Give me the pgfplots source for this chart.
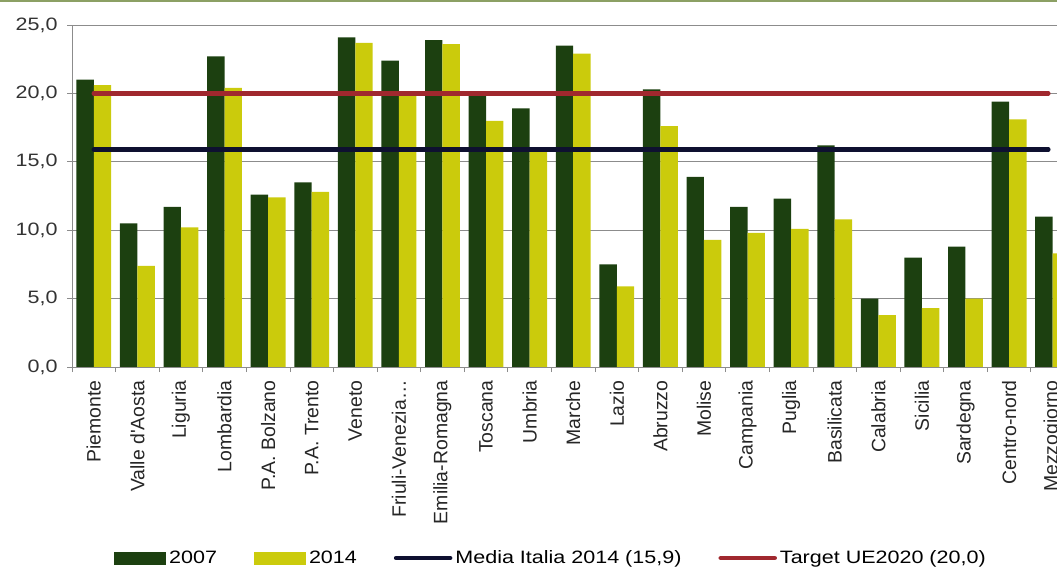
\documentclass[border=0pt]{standalone}
\usepackage{fontspec}
\setmainfont{Liberation Sans}
\newfontfamily\wide{Liberation Sans}[FakeStretch=1.2]
\usepackage{pgfplots}
\pgfplotsset{compat=1.18}
\definecolor{dg}{RGB}{28,64,16}
\definecolor{yg}{RGB}{203,203,12}
\definecolor{navy}{RGB}{14,16,48}
\definecolor{tred}{RGB}{160,40,46}
\definecolor{gridc}{RGB}{140,140,140}
\definecolor{framec}{RGB}{140,160,100}
\begin{document}
\begin{tikzpicture}
\path[use as bounding box] (0,0) rectangle (1057bp,568bp);
\fill[framec] (0,565.5bp) rectangle (1057bp,568bp);
\begin{axis}[
  at={(72bp,201bp)}, anchor=south west,
  scale only axis, width=985bp, height=342bp,
  xmin=-0.5, xmax=22.1, ymin=0, ymax=25,
  axis x line*=bottom, axis y line*=left,
  axis line style={gridc, line width=1bp, -},
  ybar=0pt, bar width=0.4,
  ytick={0,5,...,25},
  ymajorgrids, grid style={gridc, line width=0.8bp},
  tick align=outside, major tick length=5bp, minor tick length=5bp,
  tick style={gridc, line width=0.8bp},
  major x tick style={draw=none},
  xtick={0,...,22},
  minor xtick={-0.5,0.5,...,21.5},
  xticklabels={Piemonte,Valle d\textquotesingle Aosta,Liguria,Lombardia,P.A. Bolzano,P.A. Trento,Veneto,Friuli-Venezia…,Emilia-Romagna,Toscana,Umbria,Marche,Lazio,Abruzzo,Molise,Campania,Puglia,Basilicata,Calabria,Sicilia,Sardegna,Centro-nord,Mezzogiorno},
  xticklabel style={yshift=-5bp, rotate=90, anchor=east, font=\fontsize{19.5}{19.5}\selectfont, color=black!85},
  yticklabel style={font=\wide\fontsize{18}{18}\selectfont, color=black!80, xshift=-6bp,
    /pgf/number format/fixed, /pgf/number format/fixed zerofill,
    /pgf/number format/precision=1, /pgf/number format/use comma,
    /pgf/number format/assume math mode=true},
  legend columns=4,
  legend style={at={(0.0426,-0.5585)}, anchor=west, draw=none, fill=none,
    font=\wide\fontsize{18}{18}\selectfont, inner sep=0pt,
    nodes={inner sep=3bp},
    /tikz/every even column/.append style={column sep=34bp}},
]
\addplot[fill=dg, draw=none, bar shift=-0.2,
  legend image code/.code={\fill[dg] (0bp,-6.5bp) rectangle (52bp,6.5bp);}]
  coordinates {(0,21.0) (1,10.5) (2,11.7) (3,22.7) (4,12.6) (5,13.5) (6,24.1) (7,22.4) (8,23.9) (9,19.8) (10,18.9) (11,23.5) (12,7.5) (13,20.3) (14,13.9) (15,11.7) (16,12.3) (17,16.2) (18,5.0) (19,8.0) (20,8.8) (21,19.4) (22,11.0)};
\addlegendentry{2007}
\addplot[fill=yg, draw=none, bar shift=0.2,
  legend image code/.code={\fill[yg] (0bp,-6.5bp) rectangle (52bp,6.5bp);}]
  coordinates {(0,20.6) (1,7.4) (2,10.2) (3,20.4) (4,12.4) (5,12.8) (6,23.7) (7,19.8) (8,23.6) (9,18.0) (10,15.7) (11,22.9) (12,5.9) (13,17.6) (14,9.3) (15,9.8) (16,10.1) (17,10.8) (18,3.8) (19,4.3) (20,5.0) (21,18.1) (22,8.3)};
\addlegendentry{2014}
\addplot[sharp plot, navy, line width=4.5bp, line cap=round,
  legend image code/.code={\draw[navy, line width=4.5bp, line cap=round] (0bp,0bp) -- (54bp,0bp);}]
  coordinates {(0,15.9) (21.9,15.9)};
\addlegendentry{Media Italia 2014 (15,9)}
\addplot[sharp plot, tred, line width=4.5bp, line cap=round,
  legend image code/.code={\draw[tred, line width=4.5bp, line cap=round] (0bp,0bp) -- (54bp,0bp);}]
  coordinates {(0,20.0) (21.9,20.0)};
\addlegendentry{Target UE2020 (20,0)}
\end{axis}
\end{tikzpicture}
\end{document}
